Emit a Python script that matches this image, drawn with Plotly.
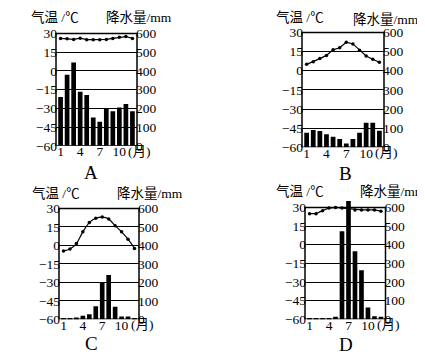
import plotly.graph_objects as go

months = list(range(1, 13))

temp_A = [26, 25.8, 25.2, 26.2, 25, 25, 25, 25.2, 26, 27, 27.5, 26]
prec_A = [260, 380, 445, 288, 271, 151, 129, 200, 184, 205, 223, 184]
temp_B = [5, 7, 9.5, 12, 16.4, 18, 22.3, 21, 16, 11.5, 9, 6.7]
prec_B = [76, 90, 85, 68, 55, 43, 20, 43, 76, 128, 128, 87]
temp_C = [-4.5, -3, 1.5, 11, 18.5, 22, 23, 21.5, 16, 11, 5, -2.5]
prec_C = [3, 3, 10, 20, 27, 71, 200, 240, 68, 16, 16, 5]
temp_D = [25, 25, 27.4, 29.5, 30, 29.5, 28.7, 28, 28, 28, 28, 27]
prec_D = [7, 7, 7, 7, 14, 473, 635, 365, 263, 63, 17, 14]

temp_ticks = [30, 15, 0, -15, -30, -45, -60]
prec_ticks = [600, 500, 400, 300, 200, 100, 0]
month_ticks = [1, 4, 7, 10]
month_tick_text = ["1", "4", "7", "10"]
panel_names = ["A", "B", "C", "D"]

W, H = 425, 357
FONT = "Liberation Serif, Noto Sans CJK SC, serif"
TICK = 13.5
ANN_DY = -4  # vertical correction for annotation placement (px)

# plot geometry in pixels: left, right, top (30 degC), bottom (-60 degC)
geo = {
    "A": (48, 129, 26, 141),
    "B": (294, 376, 25, 142.5),
    "C": (51, 131, 205, 318.5),
    "D": (297, 377.5, 204, 318.5),
}
title_pos = {
    "A": ((47, 14), (131, 14), (83, 172.5)),
    "B": ((291.5, 14), (377.5, 16), (337, 173)),
    "C": ((48, 194), (142, 194), (83, 347.5)),
    "D": ((292, 191.5), (384.5, 191.5), (338, 348)),
}
series = {
    "A": (temp_A, prec_A, "linear"),
    "B": (temp_B, prec_B, "linear"),
    "C": (temp_C, prec_C, "spline"),
    "D": (temp_D, prec_D, "linear"),
}

EXT = 6  # extra degC above the frame so tall bars can overshoot
T_MIN, T_MAX = -60, 30
P_MAX = 600


def py(px):
    return 1 - (px + ANN_DY) / H


fig = go.Figure()
layout = dict(
    width=W, height=H, margin=dict(l=0, r=0, t=0, b=0),
    paper_bgcolor="white", plot_bgcolor="rgba(0,0,0,0)",
    showlegend=False, bargap=0.28,
    font=dict(family=FONT, size=12, color="black"),
)
annotations = []
shapes = []

for i, name in enumerate(panel_names):
    L, R, T, B = geo[name]
    scale = (B - T) / (T_MAX - T_MIN)
    top_px = T - EXT * scale
    xa = "xaxis" if i == 0 else f"xaxis{i+1}"
    xr = "x" if i == 0 else f"x{i+1}"
    base_n = 2 * i + 1
    over_n = 2 * i + 2
    ya_base = "yaxis" if base_n == 1 else f"yaxis{base_n}"
    yr_base = "y" if base_n == 1 else f"y{base_n}"
    ya_over = f"yaxis{over_n}"
    yr_over = f"y{over_n}"

    layout[xa] = dict(
        domain=[L / W, R / W], anchor=yr_base, range=[0.3, 12.7],
        tickmode="array", tickvals=month_ticks, ticktext=month_tick_text,
        showgrid=False, zeroline=False, showline=False, ticks="",
        ticklabelstandoff=-4,
        tickfont=dict(size=TICK, family=FONT),
    )
    p_ext = P_MAX * (T_MAX + EXT - T_MIN) / (T_MAX - T_MIN)
    layout[ya_base] = dict(
        domain=[1 - B / H, 1 - top_px / H], anchor=xr, side="right",
        range=[0, p_ext], tickmode="array", tickvals=prec_ticks,
        showgrid=True, gridcolor="black", gridwidth=1.3, zeroline=False,
        showline=False, ticks="", ticklabelstandoff=-2,
        tickfont=dict(size=TICK, family=FONT),
    )
    layout[ya_over] = dict(
        overlaying=yr_base, anchor=xr, side="left",
        range=[T_MIN, T_MAX + EXT], tickmode="array", tickvals=temp_ticks,
        showgrid=False, zeroline=False, showline=False, ticks="",
        ticklabelstandoff=-2,
        tickfont=dict(size=TICK, family=FONT),
    )

    temp, prec, shape = series[name]
    fig.add_trace(go.Bar(x=months, y=prec, marker=dict(color="black", line=dict(width=0)),
                         xaxis=xr, yaxis=yr_base))
    fig.add_trace(go.Scatter(x=months, y=temp, mode="lines+markers",
                             line=dict(color="black", width=1.2, shape=shape, smoothing=1.0),
                             marker=dict(color="black", size=3.5),
                             xaxis=xr, yaxis=yr_over, cliponaxis=False))

    shapes.append(dict(type="rect", xref=f"{xr} domain", yref=yr_over,
                       x0=0, x1=1, y0=T_MIN, y1=T_MAX,
                       line=dict(color="black", width=1.5)))

    (tx, ty), (px_, py_), (lx, ly) = title_pos[name]
    annotations.append(dict(text="气温 /℃", x=tx / W, y=py(ty), xref="paper", yref="paper",
                            showarrow=False, xanchor="center", yanchor="middle",
                            font=dict(family=FONT, size=13.5)))
    annotations.append(dict(text="降水量/mm", x=px_ / W, y=py(py_), xref="paper", yref="paper",
                            showarrow=False, xanchor="center", yanchor="middle",
                            font=dict(family=FONT, size=13.5)))
    annotations.append(dict(text=name, x=lx / W, y=py(ly), xref="paper", yref="paper",
                            showarrow=False, xanchor="center", yanchor="middle",
                            font=dict(family=FONT, size=19)))
    annotations.append(dict(text="(月)", x=10, xref=xr, xshift=7, xanchor="left",
                            y=py(B + 9.5), yref="paper", yanchor="middle",
                            showarrow=False, font=dict(family=FONT, size=13.5)))

layout["annotations"] = annotations
layout["shapes"] = shapes
fig.update_layout(**layout)
fig.write_html("out.html")
